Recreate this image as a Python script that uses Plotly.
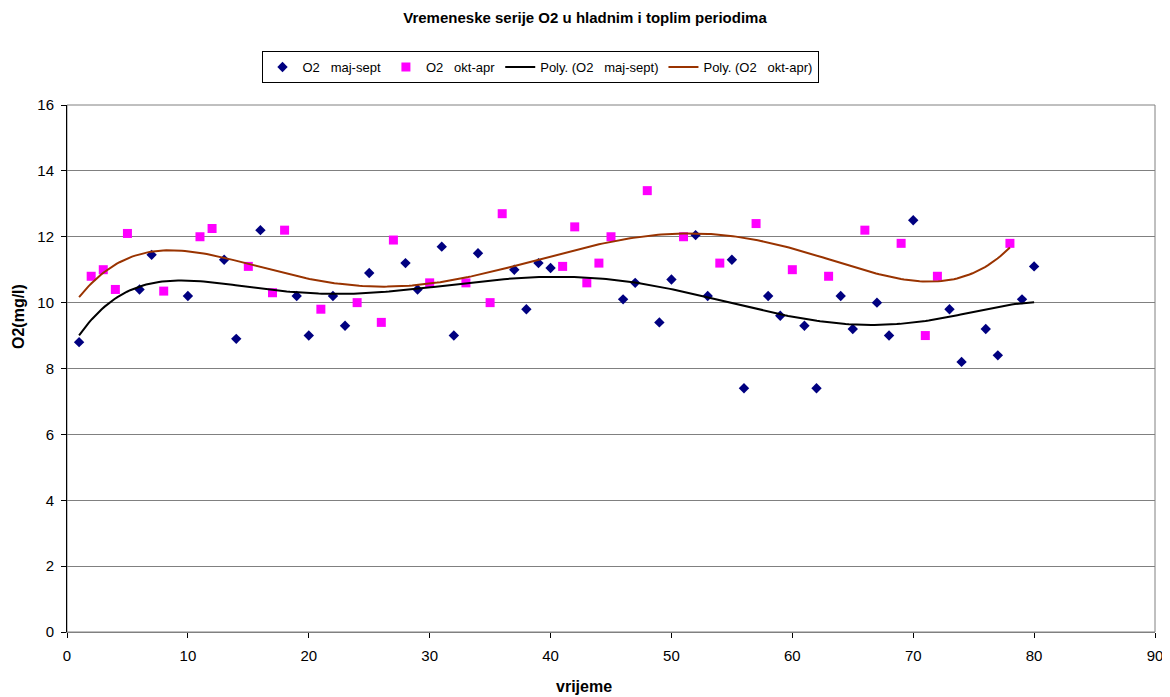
import numpy as np
import plotly.graph_objects as go

# maj-sept (warm period)
x_ms = [1, 6, 7, 10, 13, 14, 16, 19, 20, 22, 23, 25, 28, 29, 31, 32, 34, 37, 38, 39, 40,
        46, 47, 49, 50, 52, 53, 55, 56, 58, 59, 61, 62, 64, 65, 67, 68, 70, 73, 74, 76, 77, 79, 80]
y_ms = [8.8, 10.4, 11.45, 10.2, 11.3, 8.9, 12.2, 10.2, 9.0, 10.2, 9.3, 10.9, 11.2, 10.4, 11.7, 9.0, 11.5, 11.0, 9.8, 11.2, 11.05,
        10.1, 10.6, 9.4, 10.7, 12.05, 10.2, 11.3, 7.4, 10.2, 9.6, 9.3, 7.4, 10.2, 9.2, 10.0, 9.0, 12.5, 9.8, 8.2, 9.2, 8.4, 10.1, 11.1]

# okt-apr (cold period)
x_oa = [2, 3, 4, 5, 8, 11, 12, 15, 17, 18, 21, 24, 26, 27, 30, 33, 35, 36, 41, 42, 43, 44, 45,
        48, 51, 54, 57, 60, 63, 66, 69, 71, 72, 78]
y_oa = [10.8, 11.0, 10.4, 12.1, 10.35, 12.0, 12.25, 11.1, 10.3, 12.2, 9.8, 10.0, 9.4, 11.9, 10.6, 10.6, 10.0, 12.7, 11.1, 12.3, 10.6, 11.2, 12.0,
        13.4, 12.0, 11.2, 12.4, 11.0, 10.8, 12.2, 11.8, 9.0, 10.8, 11.8]

POLY_ORDER = 6
TIME_START = 1  # trendlines are drawn from the first time step

def trend(xs, ys, order, x_from):
    xs = np.asarray(xs, float)
    ys = np.asarray(ys, float)
    c = np.polyfit(xs, ys, order)
    xx = np.linspace(x_from, xs.max(), 300)
    return xx, np.polyval(c, xx)

tx_ms, ty_ms = trend(x_ms, y_ms, POLY_ORDER, TIME_START)
tx_oa, ty_oa = trend(x_oa, y_oa, POLY_ORDER, TIME_START)

NB = "\u00a0"
name_ms = "O2" + NB * 3 + "maj-sept"
name_oa = "O2" + NB * 3 + "okt-apr"

fig = go.Figure()
fig.add_trace(go.Scatter(x=x_ms, y=y_ms, mode="markers", name=name_ms,
                         marker=dict(symbol="diamond", size=8, color="#000080")))
fig.add_trace(go.Scatter(x=x_oa, y=y_oa, mode="markers", name=name_oa,
                         marker=dict(symbol="square", size=9, color="#FF00FF")))
fig.add_trace(go.Scatter(x=tx_ms, y=ty_ms, mode="lines", name="Poly. (" + name_ms + ")",
                         line=dict(color="#000000", width=2)))
fig.add_trace(go.Scatter(x=tx_oa, y=ty_oa, mode="lines", name="Poly. (" + name_oa + ")",
                         line=dict(color="#993300", width=2)))

font_family = "Liberation Sans, Arial, sans-serif"

# page body has an 8px margin: figure is 1162x689 so its plot area lands at 67..1155 x 105..632
W, H = 1162, 689
ML, MR, MT, MB = 59, 15, 97, 65
plot_w = W - ML - MR
plot_h = H - MT - MB

fig.update_layout(
    width=W, height=H,
    margin=dict(l=ML, r=MR, t=MT, b=MB, autoexpand=False),
    paper_bgcolor="white", plot_bgcolor="white",
    font=dict(family=font_family, size=13, color="#000000"),
    title=dict(text="<b>Vremeneske serije O2 u hladnim i toplim periodima</b>",
               x=577 / W, xanchor="center", xref="container",
               y=1 - 10 / H, yanchor="middle", yref="container",
               font=dict(size=15, family=font_family, color="#000000")),
    showlegend=True,
    legend=dict(orientation="h", x=(532 - ML) / plot_w, xanchor="center",
                y=1 + (MT - 43) / plot_h, yanchor="top",
                bordercolor="#000000", borderwidth=1, bgcolor="white",
                font=dict(size=13, family=font_family), itemwidth=30, tracegroupgap=0),
    xaxis=dict(range=[0, 90], tick0=0, dtick=10, showgrid=False, zeroline=False,
               showline=True, linecolor="#808080", linewidth=1,
               ticks="outside", ticklen=5, tickcolor="#000000",
               tickfont=dict(size=15), ticklabelstandoff=5, automargin=False),
    yaxis=dict(range=[0, 16], tick0=0, dtick=2, showgrid=True, gridcolor="#808080", gridwidth=1,
               zeroline=False, showline=True, linecolor="#000000", linewidth=1,
               ticks="outside", ticklen=5, tickcolor="#000000",
               tickfont=dict(size=15), ticklabelstandoff=4, automargin=False),
    shapes=[dict(type="rect", xref="paper", yref="paper", x0=0, x1=1, y0=0, y1=1,
                 line=dict(color="#808080", width=1), layer="below")],
    annotations=[
        dict(text="<b>vrijeme</b>", xref="paper", yref="paper",
             x=(576 - ML) / plot_w, y=(H - MB - 678) / plot_h,
             xanchor="center", yanchor="middle", showarrow=False,
             font=dict(size=16, family=font_family)),
        dict(text="<b>O2(mg/l)</b>", xref="paper", yref="paper", textangle=-90,
             x=(10 - ML) / plot_w, y=(H - MB - 309) / plot_h,
             xanchor="center", yanchor="middle", showarrow=False,
             font=dict(size=16, family=font_family)),
    ],
)

fig.write_html("out.html")
